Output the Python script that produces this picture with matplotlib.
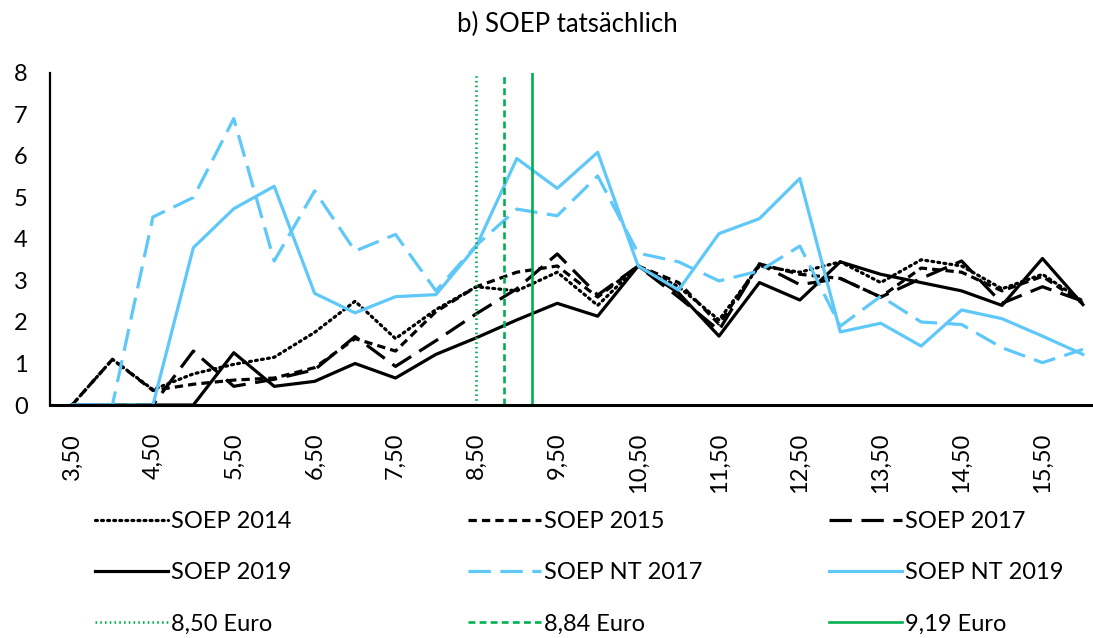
# -*- coding: utf-8 -*-
import matplotlib
matplotlib.use('Agg')
import matplotlib.pyplot as plt

# Stundenlohn-Kategorien (Euro)
wages = [3.50, 4.00, 4.50, 5.00, 5.50, 6.00, 6.50, 7.00, 7.50, 8.00, 8.50, 9.00, 9.50,
         10.00, 10.50, 11.00, 11.50, 12.00, 12.50, 13.00, 13.50, 14.00, 14.50, 15.00,
         15.50, 16.00]

soep_2014 = [0, 1.1, 0.37, 0.75, 0.98, 1.15, 1.75, 2.5, 1.6, 2.3, 2.85, 2.75, 3.2,
             2.4, 3.35, 2.85, 2.05, 3.35, 3.2, 3.45, 2.95, 3.5, 3.35, 2.8, 3.15, 2.5]
soep_2015 = [0, 1.1, 0.35, 0.5, 0.6, 0.65, 0.9, 1.6, 1.3, 2.25, 2.85, 3.2, 3.35,
             2.6, 3.35, 2.95, 1.95, 3.4, 3.15, 3.05, 2.6, 3.3, 3.2, 2.75, 3.1, 2.45]
soep_2017 = [0, 0, 0, 1.3, 0.45, 0.62, 0.85, 1.65, 0.93, 1.55, 2.2, 2.8, 3.64,
             2.65, 3.35, 2.6, 1.8, 3.4, 2.9, 3.05, 2.6, 3.05, 3.47, 2.45, 2.85, 2.5]
soep_2019 = [0, 0, 0, 0, 1.26, 0.45, 0.57, 1.0, 0.65, 1.22, 1.62, 2.05, 2.45,
             2.14, 3.35, 2.7, 1.66, 2.95, 2.53, 3.45, 3.15, 2.95, 2.75, 2.4, 3.53, 2.42]
soep_nt_2017 = [0, 0, 4.53, 5.0, 6.9, 3.47, 5.16, 3.71, 4.11, 2.75, 3.85, 4.72, 4.56,
                5.52, 3.66, 3.45, 2.99, 3.23, 3.83, 1.9, 2.62, 2.0, 1.94, 1.38, 1.02, 1.34]
soep_nt_2019 = [0, 0, 0, 3.79, 4.73, 5.27, 2.69, 2.22, 2.61, 2.66, 3.83, 5.94, 5.22,
                6.09, 3.35, 2.77, 4.13, 4.49, 5.46, 1.76, 1.97, 1.42, 2.29, 2.08, 1.66, 1.22]

# Mindestlohn-Stufen
mw_values = [8.50, 8.84, 9.19]
mw_labels = ['8,50 Euro', '8,84 Euro', '9,19 Euro']

BLUE = '#5ec8f8'
GREEN = '#00b050'

plt.rcParams['font.family'] = ['Lato', 'DejaVu Sans']

fig = plt.figure(figsize=(10.93, 6.38), dpi=100)
ax = fig.add_axes([50 / 1093, 233 / 638, 1043 / 1093, 332 / 638])

x = list(range(len(wages)))
step = wages[1] - wages[0]

def to_pos(w):
    return (w - wages[0]) / step

lw = 2.3
h14, = ax.plot(x, soep_2014, color='k', lw=lw, ls=(0, (0.6, 1.3)),
               dash_capstyle='round', label='SOEP 2014')
h15, = ax.plot(x, soep_2015, color='k', lw=lw, ls=(0, (2.6, 1.6)), label='SOEP 2015')
h17, = ax.plot(x, soep_2017, color='k', lw=lw, ls=(0, (7, 3)), label='SOEP 2017')
h19, = ax.plot(x, soep_2019, color='k', lw=lw, label='SOEP 2019')
hn17, = ax.plot(x, soep_nt_2017, color=BLUE, lw=lw, ls=(0, (7, 3)), label='SOEP NT 2017')
hn19, = ax.plot(x, soep_nt_2019, color=BLUE, lw=lw, label='SOEP NT 2019')

mw_styles = [(0, (0.6, 1.2)), (0, (2.6, 1.6)), '-']
mw_handles = []
for w, lab, st in zip(mw_values, mw_labels, mw_styles):
    h, = ax.plot([to_pos(w), to_pos(w)], [0, 8], color=GREEN, lw=1.9, ls=st, label=lab)
    mw_handles.append(h)

ax.set_xlim(-0.545, 25.25)
ax.set_ylim(0, 8)
ax.set_yticks(range(0, 9))
ax.set_xticks(x[::2])
ax.set_xticklabels([('%.2f' % w).replace('.', ',') for w in wages[::2]],
                   rotation=90, fontsize=17)
ax.tick_params(axis='x', length=0, pad=20)
ax.tick_params(axis='y', length=0, pad=16, labelsize=17)
for s in ['top', 'right']:
    ax.spines[s].set_visible(False)
ax.spines['left'].set_linewidth(1.6)
ax.spines['bottom'].set_linewidth(2.2)

fig.text(567 / 1093, 1 - 24 / 638, 'b) SOEP tatsächlich', ha='center', va='center',
         fontsize=18.5)

columns = [[h14, h19, mw_handles[0]],
           [h15, hn17, mw_handles[1]],
           [h17, hn19, mw_handles[2]]]
col_x = [95, 468, 829]
for hs, cx in zip(columns, col_x):
    leg = fig.legend(handles=hs, loc='upper left', bbox_to_anchor=(cx / 1093, 1 - 511 / 638),
                     frameon=False, fontsize=17, handlelength=3.1, handletextpad=0.1,
                     borderpad=0, borderaxespad=0, labelspacing=1.28)

fig.savefig('out.png', dpi=100)
